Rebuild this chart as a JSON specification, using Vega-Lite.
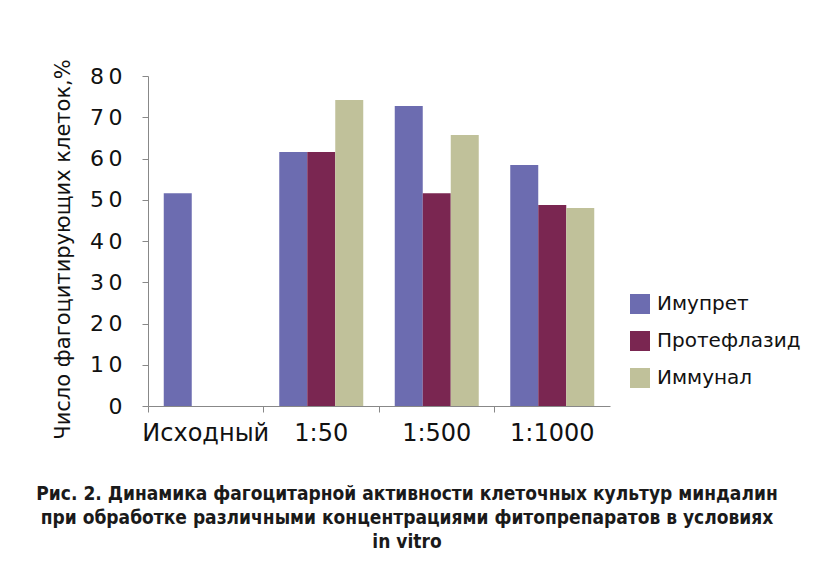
{
  "$schema": "https://vega.github.io/schema/vega-lite/v6.json",
  "width": 462,
  "height": 330,
  "autosize": "none",
  "padding": {"left": 148, "top": 76, "right": 203, "bottom": 166},
  "background": "white",
  "config": {"view": {"stroke": null}},
  "title": {
    "text": ["Рис. 2. Динамика фагоцитарной активности клеточных культур миндалин", "при обработке различными концентрациями фитопрепаратов в условиях", "in vitro"],
    "orient": "bottom",
    "anchor": "middle",
    "frame": "group",
    "dx": 28,
    "offset": 40,
    "font": "DejaVu Sans Condensed",
    "fontWeight": "bold",
    "fontSize": 19,
    "lineHeight": 24,
    "color": "#1a1a1a"
  },
  "data": {
    "values": [
      {"group": "Исходный", "series": "Имупрет", "value": 51.6},
      {"group": "1:50", "series": "Имупрет", "value": 61.6},
      {"group": "1:50", "series": "Протефлазид", "value": 61.6},
      {"group": "1:50", "series": "Иммунал", "value": 74.2},
      {"group": "1:500", "series": "Имупрет", "value": 72.7},
      {"group": "1:500", "series": "Протефлазид", "value": 51.6},
      {"group": "1:500", "series": "Иммунал", "value": 65.7},
      {"group": "1:1000", "series": "Имупрет", "value": 58.4},
      {"group": "1:1000", "series": "Протефлазид", "value": 48.7},
      {"group": "1:1000", "series": "Иммунал", "value": 48.0}
    ]
  },
  "mark": {"type": "bar"},
  "encoding": {
    "x": {
      "field": "group",
      "type": "nominal",
      "sort": ["Исходный", "1:50", "1:500", "1:1000"],
      "scale": {"paddingInner": 0, "paddingOuter": 0},
      "axis": {
        "title": null,
        "labelAngle": 0,
        "bandPosition": 0,
        "labelFont": "DejaVu Sans",
        "labelFontSize": 24,
        "labelColor": "#111",
        "labelPadding": 9,
        "tickSize": 6,
        "tickColor": "#888",
        "domainColor": "#888",
        "labelBound": false,
        "labelOverlap": false
      }
    },
    "xOffset": {
      "field": "series",
      "type": "nominal",
      "sort": ["Имупрет", "Протефлазид", "Иммунал"],
      "scale": {"paddingOuter": 0.5625, "paddingInner": 0}
    },
    "y": {
      "field": "value",
      "type": "quantitative",
      "scale": {"domain": [0, 80]},
      "axis": {
        "title": "Число фагоцитирующих клеток,%",
        "titleFont": "DejaVu Sans",
        "titleFontSize": 21,
        "titleFontWeight": "normal",
        "titleColor": "#111",
        "titlePadding": 16,
        "titleY": 173,
        "values": [0, 10, 20, 30, 40, 50, 60, 70, 80],
        "grid": false,
        "labelFont": "DejaVu Sans",
        "labelFontSize": 22,
        "labelColor": "#111",
        "labelPadding": 20,
        "labelExpr": "replace(datum.label, regexp('(\\\\d)(?=\\\\d)', 'g'), '$1\u2009')",
        "tickSize": 6,
        "tickColor": "#888",
        "domainColor": "#888"
      }
    },
    "color": {
      "field": "series",
      "type": "nominal",
      "scale": {
        "domain": ["Имупрет", "Протефлазид", "Иммунал"],
        "range": ["#6C6CB0", "#7A2651", "#C0C19A"]
      },
      "legend": {
        "title": null,
        "orient": "none",
        "legendX": 482,
        "legendY": 218,
        "symbolType": "square",
        "symbolSize": 400,
        "symbolStrokeWidth": 0,
        "rowPadding": 17,
        "labelFont": "DejaVu Sans",
        "labelFontSize": 20,
        "labelColor": "#111",
        "labelOffset": 7,
        "labelLimit": 300
      }
    }
  }
}
